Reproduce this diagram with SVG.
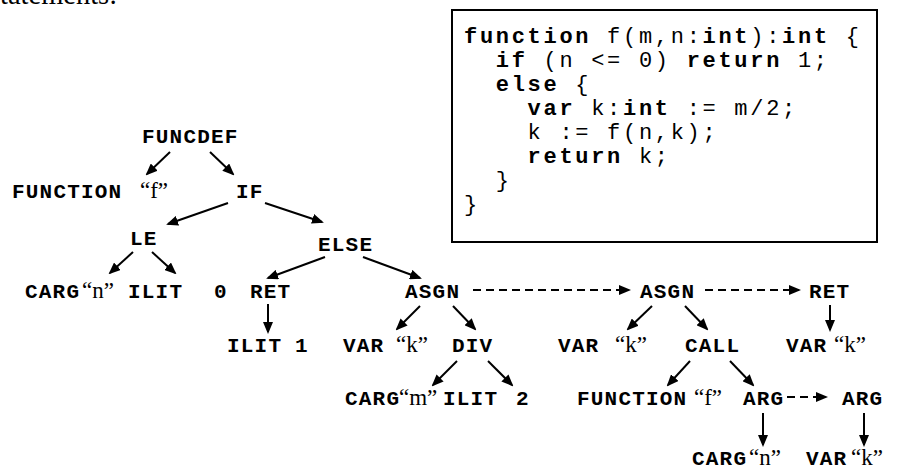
<svg xmlns="http://www.w3.org/2000/svg" width="909" height="470" viewBox="0 0 909 470">
<style>
.n{font-family:"Liberation Mono","Courier New",monospace;font-weight:bold;font-size:21px;letter-spacing:1.2px;fill:#000}
.q{font-family:"Liberation Serif","Times New Roman",serif;font-size:23px;fill:#000}
.c{font-family:"Liberation Mono","Courier New",monospace;font-size:22px;letter-spacing:2.7px;fill:#000;white-space:pre}
.c .b{font-weight:bold}
.e{stroke:#000;stroke-width:2;fill:none;marker-end:url(#ah)}
.d{stroke-dasharray:8 5}
</style>
<defs>
<marker id="ah" viewBox="0 0 12 10" refX="10" refY="5" markerWidth="12" markerHeight="10" markerUnits="userSpaceOnUse" orient="auto">
<path d="M0,0 L12,5 L0,10 z" fill="#000"/>
</marker>
</defs>
<rect width="909" height="470" fill="#fff"/>
<text x="0" y="4" font-family="Liberation Serif,serif" font-size="28.5">tatements:</text>

<g id="code">
<rect x="452" y="10" width="425" height="232" fill="#fff" stroke="#000" stroke-width="2"/>
<text class="c" x="464" y="43"><tspan class="b">function</tspan> f(m,n:<tspan class="b">int</tspan>):<tspan class="b">int</tspan> {</text>
<text class="c" x="495.8" y="67"><tspan class="b">if</tspan> (n &lt;= 0) <tspan class="b">return</tspan> 1;</text>
<text class="c" x="495.8" y="91"><tspan class="b">else</tspan> {</text>
<text class="c" x="527.6" y="115"><tspan class="b">var</tspan> k:<tspan class="b">int</tspan> := m/2;</text>
<text class="c" x="527.6" y="139">k := f(n,k);</text>
<text class="c" x="527.6" y="163"><tspan class="b">return</tspan> k;</text>
<text class="c" x="495.8" y="187">}</text>
<text class="c" x="464" y="211">}</text>
</g>

<g id="connectors">
<line class="e" x1="170" y1="152" x2="147" y2="174"/>
<line class="e" x1="210" y1="152" x2="233" y2="174"/>
<line class="e" x1="228" y1="203" x2="168" y2="224"/>
<line class="e" x1="265" y1="203" x2="322" y2="222"/>
<line class="e" x1="133" y1="252" x2="110" y2="273"/>
<line class="e" x1="152" y1="252" x2="175" y2="273"/>
<line class="e" x1="325" y1="257" x2="268" y2="278"/>
<line class="e" x1="363" y1="257" x2="420" y2="278"/>
<line class="e" x1="268" y1="304" x2="268" y2="332"/>
<line class="e" x1="420" y1="306" x2="397" y2="329"/>
<line class="e" x1="453" y1="306" x2="475" y2="329"/>
<line class="e" x1="457" y1="361" x2="433" y2="385"/>
<line class="e" x1="488" y1="361" x2="512" y2="385"/>
<line class="e" x1="652" y1="306" x2="628" y2="329"/>
<line class="e" x1="685" y1="306" x2="707" y2="329"/>
<line class="e" x1="830" y1="305" x2="830" y2="330"/>
<line class="e" x1="690" y1="361" x2="668" y2="385"/>
<line class="e" x1="730" y1="361" x2="753" y2="385"/>
<line class="e" x1="763" y1="413" x2="763" y2="445"/>
<line class="e" x1="864" y1="413" x2="864" y2="445"/>
<line class="e d" x1="473" y1="290" x2="629" y2="290"/>
<line class="e d" x1="705" y1="290" x2="799" y2="290"/>
<line class="e d" x1="787" y1="397" x2="826" y2="397"/>
</g>

<g id="funcdef"><text class="n" x="142" y="143">FUNCDEF</text></g>
<g id="function1"><text class="n" x="12" y="198">FUNCTION</text><text class="q" x="140" y="198">“f”</text></g>
<g id="if"><text class="n" x="236" y="198">IF</text></g>
<g id="le"><text class="n" x="130" y="245">LE</text></g>
<g id="else"><text class="n" x="318" y="251">ELSE</text></g>
<g id="carg1"><text class="n" x="25" y="298">CARG</text><text class="q" x="82" y="298">“n”</text></g>
<g id="ilit0"><text class="n" x="128" y="298">ILIT</text><text class="n" x="214" y="298">0</text></g>
<g id="ret1"><text class="n" x="250" y="298">RET</text></g>
<g id="asgn1"><text class="n" x="405" y="298">ASGN</text></g>
<g id="asgn2"><text class="n" x="640" y="298">ASGN</text></g>
<g id="ret2"><text class="n" x="809" y="298">RET</text></g>
<g id="ilit1"><text class="n" x="227" y="352">ILIT</text><text class="n" x="295" y="352">1</text></g>
<g id="var1"><text class="n" x="343" y="352">VAR</text><text class="q" x="396" y="352">“k”</text></g>
<g id="div"><text class="n" x="452" y="352">DIV</text></g>
<g id="var2"><text class="n" x="558" y="352">VAR</text><text class="q" x="615" y="352">“k”</text></g>
<g id="call"><text class="n" x="685" y="352">CALL</text></g>
<g id="var3"><text class="n" x="786" y="352">VAR</text><text class="q" x="834" y="352">“k”</text></g>
<g id="carg2"><text class="n" x="345" y="405">CARG</text><text class="q" x="399" y="405">“m”</text></g>
<g id="ilit2"><text class="n" x="443" y="405">ILIT</text><text class="n" x="516" y="405">2</text></g>
<g id="function2"><text class="n" x="577" y="405">FUNCTION</text><text class="q" x="694" y="405">“f”</text></g>
<g id="arg1"><text class="n" x="743" y="405">ARG</text></g>
<g id="arg2"><text class="n" x="842" y="405">ARG</text></g>
<g id="carg3"><text class="n" x="692" y="465">CARG</text><text class="q" x="749" y="465">“n”</text></g>
<g id="var4"><text class="n" x="806" y="465">VAR</text><text class="q" x="851" y="465">“k”</text></g>
</svg>
